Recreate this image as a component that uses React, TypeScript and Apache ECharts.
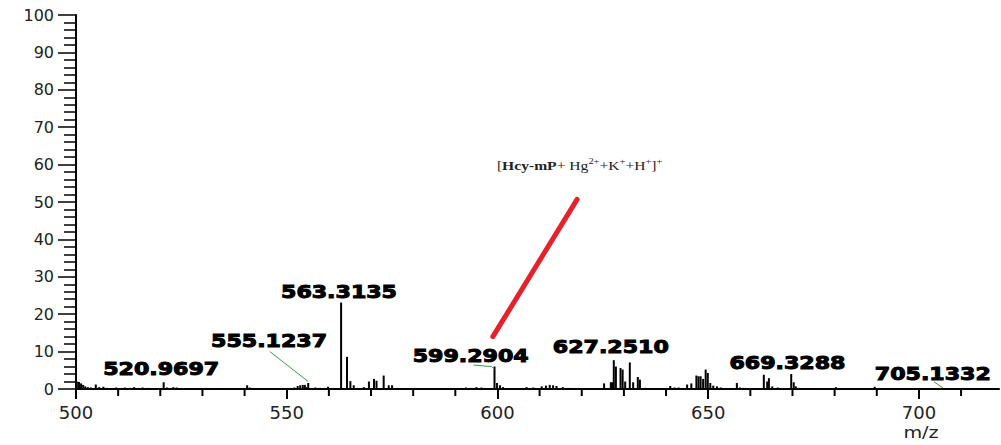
import React, { useEffect, useRef } from "react";
import * as echarts from "echarts";

// ---- spectrum sticks (m/z, relative intensity %) ----
const peakMz = [
  500.2, 500.7, 501.2, 501.7, 502.2, 502.8, 503.5, 504.7, 505.5, 506.5, 507.3, 509.5,
  511.6, 512.8, 513.8, 514.8, 515.8, 517.0, 520.8, 521.6, 523.1, 523.9,
  540.6, 541.2, 551.8, 552.6, 553.2, 553.8, 554.3, 554.7, 555.1, 556.8, 557.9, 559.8,
  562.9, 564.3, 565.1, 565.9, 568.3, 569.5, 570.7, 571.3, 573.0, 574.2, 575.0,
  592.5, 593.8, 595.0, 596.2, 599.3, 599.9, 600.6, 601.3,
  606.9, 608.5, 610.5, 611.5, 612.4, 613.2, 614.0, 615.5, 616.8,
  625.3, 626.9, 627.2, 627.6, 628.1, 629.2, 629.7, 630.3, 631.4, 632.2, 633.3, 633.8, 635.1,
  641.0, 642.0, 643.0, 645.0, 646.0, 647.2, 647.7, 648.2, 648.8, 649.4, 649.9, 650.5, 651.2, 652.1, 653.0,
  656.8, 657.5, 658.3,
  663.2, 664.0, 664.4, 665.2, 666.5, 669.7, 670.3, 670.8, 671.5,
  680.3, 689.5, 705.1,
];
const peakIntensity = [
  2.0, 1.9, 1.5, 1.1, 0.7, 0.5, 0.4, 1.2, 0.5, 0.6, 0.3, 0.4,
  0.4, 0.3, 0.5, 0.3, 0.4, 0.3, 1.8, 0.4, 0.5, 0.4,
  1.0, 0.4, 0.4, 0.8, 1.0, 1.1, 1.1, 0.5, 1.6, 0.4, 0.3, 0.6,
  23.1, 8.6, 2.1, 1.0, 0.5, 2.0, 2.7, 2.2, 3.6, 1.0, 1.0,
  0.4, 0.3, 0.5, 0.4, 6.0, 1.6, 1.0, 0.5,
  0.5, 0.4, 0.7, 0.9, 1.1, 1.0, 0.8, 0.5, 0.3,
  1.5, 1.8, 1.8, 7.7, 6.0, 5.6, 5.2, 2.0, 7.1, 1.8, 3.2, 2.5, 0.3,
  0.8, 0.4, 0.4, 1.2, 1.5, 3.6, 3.4, 3.4, 2.7, 5.2, 4.3, 1.6, 0.9, 0.7, 0.4,
  1.6, 0.4, 0.3,
  3.8, 2.0, 2.9, 0.7, 0.4, 4.0, 1.8, 0.7, 0.3,
  0.5, 0.6, 0.3,
];

// ---- peak labels: text and its centre, in data units (m/z, %) ----
const peakLabels = ["563.3135", "555.1237", "520.9697", "599.2904", "627.2510", "669.3288", "705.1332"];
const labelAnchorMz = [562.4, 545.8, 520.2, 593.65, 626.9, 668.8, 703.3];
const labelAnchorY = [25.8, 12.7, 5.3, 8.6, 11.0, 6.9, 4.0];

// ---- annotation ----
const formulaAnchor = [619.5, 59.9];
const redLine = [[598.9, 14.0], [618.9, 50.7]];
const greenLines = [
  [[546.0, 10.0], [555.1, 2.0]],
  [[594.3, 6.4], [598.6, 6.0]],
  [[598.6, 6.0], [599.3, 5.3]],
  [[703.6, 1.9], [705.7, 0.3]],
];

// ---- axes ----
const xMin = 500;
const xMax = 719;
const xInterval = 50;
const xMinorTicks = [510, 520, 530, 540, 560, 570, 580, 590, 610, 620, 630, 640, 660, 670, 680, 690, 710];
const yMin = 0;
const yMax = 100;
const yInterval = 10;

export default function App() {
  const ref = useRef<HTMLDivElement>(null);

  useEffect(() => {
    if (!ref.current) return;
    const chart = echarts.init(ref.current, undefined, { renderer: "svg" });

    const axisColor = "#000";
    const option: any = {
      animation: false,
      backgroundColor: "#fff",
      grid: { left: 76, right: 2, top: 15, bottom: 56, containLabel: false, outerBoundsMode: "none" },
      xAxis: {
        type: "value",
        min: xMin,
        max: xMax,
        interval: xInterval,
        axisLine: { show: true, onZero: false, lineStyle: { color: axisColor, width: 2 } },
        axisTick: { show: true, length: 10, lineStyle: { color: axisColor, width: 2 } },
        splitLine: { show: false },
        axisLabel: {
          margin: 14,
          fontFamily: "DejaVu Sans",
          fontSize: 18,
          color: "#222",
          showMaxLabel: false,
        },
      },
      yAxis: {
        type: "value",
        min: yMin,
        max: yMax,
        interval: yInterval,
        axisLine: { show: true, lineStyle: { color: axisColor, width: 2 } },
        axisTick: { show: true, length: 18, lineStyle: { color: axisColor, width: 1.5 } },
        minorTick: { show: true, splitNumber: 5, length: 12, lineStyle: { color: axisColor, width: 1.5 } },
        splitLine: { show: false },
        axisLabel: {
          margin: 22,
          fontFamily: "DejaVu Sans",
          fontSize: 16,
          color: "#222",
        },
      },
      graphic: [],
      series: [
        {
          type: "bar",
          name: "spectrum",
          barWidth: 2,
          itemStyle: { color: "#000" },
          data: peakMz.map((m, i) => [m, peakIntensity[i]]),
          markLine: {
            silent: true,
            symbol: "none",
            label: { show: false },
            animation: false,
            data: [
              [
                { coord: redLine[0], lineStyle: { color: "#e5222b", width: 5, type: "solid", cap: "round" } },
                { coord: redLine[1] },
              ],
              ...greenLines.map((seg) => [
                { coord: seg[0], lineStyle: { color: "#3d9a4a", width: 1, type: "solid" } },
                { coord: seg[1] },
              ]),
            ],
          },
        },
        {
          type: "custom",
          name: "minorTicks",
          clip: false,
          silent: true,
          data: xMinorTicks.map((v) => [v, 0]),
          renderItem: (params: any, api: any) => {
            const p = api.coord([api.value(0), 0]);
            return {
              type: "line",
              shape: { x1: p[0], y1: p[1], x2: p[0], y2: p[1] + 7 },
              style: { stroke: axisColor, lineWidth: 2 },
            };
          },
        },
        {
          type: "custom",
          name: "peakLabels",
          clip: false,
          silent: true,
          data: labelAnchorMz.map((m, i) => [m, labelAnchorY[i]]),
          renderItem: (params: any, api: any) => {
            const p = api.coord([api.value(0), api.value(1)]);
            return {
              type: "text",
              x: p[0],
              y: p[1],
              scaleX: 1.3,
              style: {
                text: peakLabels[params.dataIndex],
                font: 'bold 17px "DejaVu Sans"',
                fill: "#000",
                stroke: "#000",
                lineWidth: 1,
                align: "center",
                verticalAlign: "middle",
              },
            };
          },
        },
        {
          type: "custom",
          name: "formula",
          clip: false,
          silent: true,
          data: [formulaAnchor],
          renderItem: (params: any, api: any) => {
            const p = api.coord([api.value(0), api.value(1)]);
            return {
              type: "text",
              x: p[0],
              y: p[1],
              scaleX: 1.3,
              style: {
                text: "{n|[}{b|Hcy-mP}{n|+ Hg}{s|2+}{n|+K}{s|+}{n|+H}{s|+}{n|]}{s|+}",
                align: "center",
                verticalAlign: "middle",
                fill: "#222",
                rich: {
                  n: { fontFamily: "Liberation Serif", fontSize: 12, lineHeight: 15, verticalAlign: "bottom", fill: "#222" },
                  b: { fontFamily: "Liberation Serif", fontSize: 12, fontWeight: "bold", lineHeight: 15, verticalAlign: "bottom", fill: "#222" },
                  s: { fontFamily: "Liberation Serif", fontSize: 8, lineHeight: 15, verticalAlign: "top", fill: "#222" },
                },
              },
            };
          },
        },
      ],
    };
    chart.setOption(option);

    // x-axis name under 700
    const namePos = chart.convertToPixel({ xAxisIndex: 0, yAxisIndex: 0 }, [700.5, 0]) as number[];
    chart.setOption({
      graphic: [
        {
          type: "text",
          x: namePos[0],
          y: 433,
          scaleX: 1.2,
          style: {
            text: "m/z",
            font: '16px "DejaVu Sans"',
            fill: "#222",
            align: "center",
            verticalAlign: "middle",
          },
        },
      ],
    });

    return () => chart.dispose();
  }, []);

  return (
    <div
      ref={ref}
      style={{ position: "fixed", left: 0, top: 0, width: 1001, height: 445, background: "#fff" }}
    />
  );
}
